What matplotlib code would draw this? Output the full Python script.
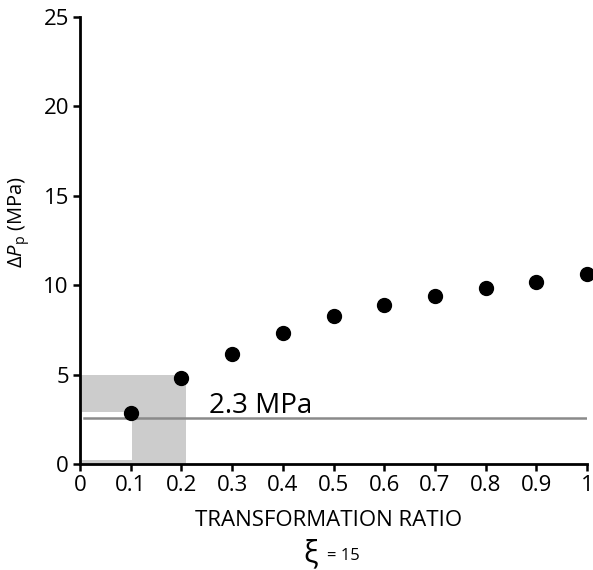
import matplotlib
matplotlib.use("Agg")
import matplotlib.pyplot as plt
from matplotlib.patches import Rectangle

plt.rcParams['font.family'] = ['Open Sans', 'DejaVu Sans']
plt.rcParams['mathtext.fontset'] = 'custom'
plt.rcParams['mathtext.rm'] = 'Open Sans'
plt.rcParams['mathtext.it'] = 'Open Sans:italic'

ratio = [0.1, 0.2, 0.3, 0.4, 0.5, 0.6, 0.7, 0.8, 0.9, 1.0]
dp = [2.85, 4.8, 6.15, 7.3, 8.25, 8.9, 9.4, 9.85, 10.2, 10.65]
ref_level = 2.55
ref_label = "2.3 MPa"
xticks = [0, 0.1, 0.2, 0.3, 0.4, 0.5, 0.6, 0.7, 0.8, 0.9, 1.0]
xticklabels = ["0", "0.1", "0.2", "0.3", "0.4", "0.5", "0.6", "0.7", "0.8", "0.9", "1"]
yticks = [0, 5, 10, 15, 20, 25]

fig = plt.figure(figsize=(5.93, 5.70), dpi=100)
ax = fig.add_axes([80/593, (570-464)/570, (587-80)/593, (464-17)/570])

# shaded region
ax.add_patch(Rectangle((0, 0), 0.21, 5.0, facecolor='#cccccc', edgecolor='none', zorder=1))
ax.add_patch(Rectangle((0.004, 0.22), 0.098, 2.7, facecolor='white', edgecolor='none', zorder=1.5))

ax.plot([0.008, 1.0], [ref_level, ref_level], color='#8a8a8a', lw=1.8, zorder=2)
ax.text(0.255, 2.85, ref_label, fontsize=20, va='baseline', ha='left')

ax.plot(ratio, dp, 'o', color='black', markersize=10, clip_on=False, zorder=3)

ax.set_xlim(0, 1)
ax.set_ylim(0, 25)
ax.set_xticks(xticks)
ax.set_xticklabels(xticklabels)
ax.set_yticks(yticks)
for s in ['top', 'right']:
    ax.spines[s].set_visible(False)
for s in ['left', 'bottom']:
    ax.spines[s].set_linewidth(2)
ax.tick_params(direction='out', length=5, width=1.8, labelsize=16, pad=3)
ax.set_ylabel(r"$\mathregular{\Delta}P_{\mathregular{p}}$ (MPa)", fontsize=14.5)
ax.yaxis.set_label_coords(-0.094, 0.541)

fig.text(329/593, 1 - 520/570, "TRANSFORMATION RATIO", fontsize=16, ha='center', va='center')
fig.text(318/593, 1 - 554/570, "\u03be", fontsize=22, ha='right', va='center')
fig.text(327/593, 1 - 556/570, "= 15", fontsize=12, ha='left', va='center')

fig.savefig("out.png", dpi=100)
